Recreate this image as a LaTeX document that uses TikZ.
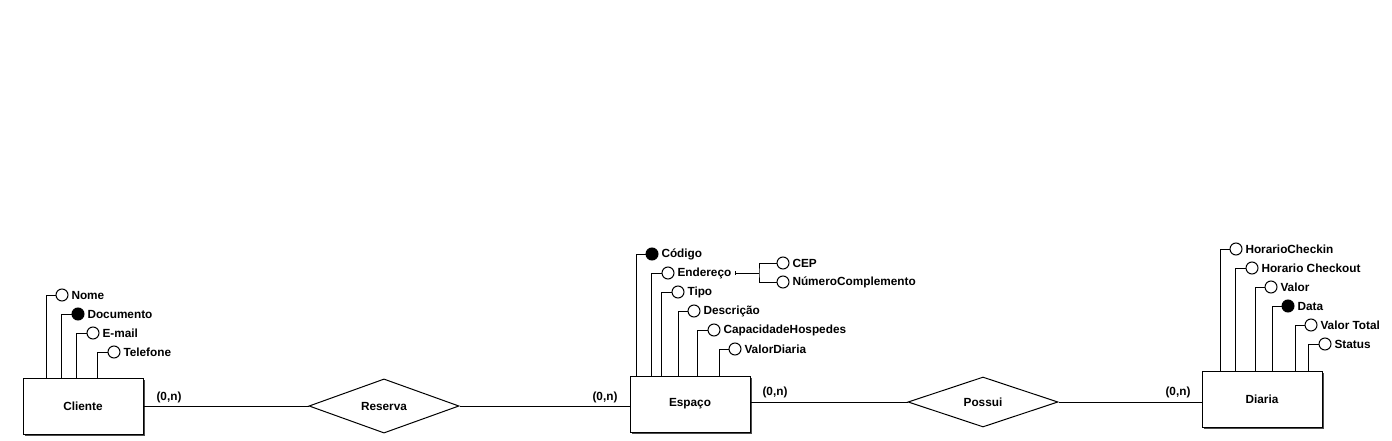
\documentclass[tikz,border=0pt]{standalone}
\usepackage{fontspec}
\setmainfont{Liberation Sans}
\usetikzlibrary{shapes.geometric,shadows}
\newcommand{\erfont}{\fontsize{11.8}{14}\selectfont\bfseries}
\tikzset{
  entity/.style={draw, fill=white, minimum width=120pt, minimum height=56pt, font=\erfont,
    drop shadow={shadow xshift=2pt, shadow yshift=-2pt, fill=black!70, opacity=1}},
  relation/.style={draw, diamond, fill=white, minimum width=150pt, minimum height=50pt, inner sep=0pt, font=\erfont},
  attr/.style={draw, circle, fill=white, minimum size=12pt, inner sep=0pt},
  keyattr/.style={attr, fill=black},
  card/.style={font=\erfont, inner sep=0pt},
}
\begin{document}
\begin{tikzpicture}[x=1pt, y=-1pt, line width=1pt, every label/.style={font=\erfont, inner sep=2.5pt}]
\useasboundingbox (0,0) rectangle (1392,441);
% entidades
\node[entity] (cliente) at (83,406) {Cliente};
\node[entity] (espaco) at (690,404) {Espaço};
\node[entity] (diaria) at (1262,399) {Diaria};
% relacionamentos
\node[relation] (reserva) at (384,406) {Reserva};
\node[relation] (possui) at (983,402) {Possui};
\draw (cliente.east) -- (reserva.west);
\draw (reserva.east) -- (reserva.east -| espaco.west);
\draw (espaco.east |- possui.west) -- (possui.west);
\draw (possui.east) -- (possui.east -| diaria.west);
\node[card] (c1) at (169,397) {(0,n)};
\node[card] (c2) at (605,397) {(0,n)};
\node[card] (c3) at (775,392) {(0,n)};
\node[card] (c4) at (1178,392) {(0,n)};
% atributos Cliente
\node[attr, label=right:Nome] (nome) at (62,295) {};
\node[keyattr, label=right:Documento] (documento) at (78,314) {};
\node[attr, label=right:E-mail] (email) at (93,333) {};
\node[attr, label=right:Telefone] (telefone) at (114,352) {};
\draw (nome.west) -| ([xshift=24pt]cliente.north west);
\draw (documento.west) -| ([xshift=39pt]cliente.north west);
\draw (email.west) -| ([xshift=54pt]cliente.north west);
\draw (telefone.west) -| ([xshift=75pt]cliente.north west);
% atributos Espaço
\node[keyattr, label=right:Código] (codigo) at (652,254) {};
\node[attr, label={[name=endlbl]right:Endereço}] (endereco) at (668,273) {};
\node[attr, label=right:Tipo] (tipo) at (678,292) {};
\node[attr, label=right:Descrição] (descricao) at (694,311) {};
\node[attr, label=right:CapacidadeHospedes] (capacidade) at (714,330) {};
\node[attr, label=right:ValorDiaria] (valordiaria) at (735,349) {};
\draw (codigo.west) -| ([xshift=7pt]espaco.north west);
\draw (endereco.west) -| ([xshift=22pt]espaco.north west);
\draw (tipo.west) -| ([xshift=32pt]espaco.north west);
\draw (descricao.west) -| ([xshift=49pt]espaco.north west);
\draw (capacidade.west) -| ([xshift=68pt]espaco.north west);
\draw (valordiaria.west) -| ([xshift=90pt]espaco.north west);
% Endereço composto
\node[attr, label=right:CEP] (cep) at (783,263) {};
\node[attr, label=right:NúmeroComplemento] (numcomp) at (783,282) {};
\coordinate (endtick) at (735,273);
\coordinate (endj) at (759,273);
\draw (endtick) -- (endj);
\draw ([yshift=-2pt]endtick) -- ([yshift=2pt]endtick);
\draw (cep.west) -| (endj) |- (numcomp.west);
% atributos Diaria
\node[attr, label=right:HorarioCheckin] (checkin) at (1236,249) {};
\node[attr, label=right:Horario Checkout] (checkout) at (1252,268) {};
\node[attr, label=right:Valor] (valor) at (1271,287) {};
\node[keyattr, label=right:Data] (data) at (1288,306) {};
\node[attr, label=right:Valor Total] (valortotal) at (1311,325) {};
\node[attr, label=right:Status] (status) at (1325,344) {};
\draw (checkin.west) -| ([xshift=19pt]diaria.north west);
\draw (checkout.west) -| ([xshift=34pt]diaria.north west);
\draw (valor.west) -| ([xshift=54pt]diaria.north west);
\draw (data.west) -| ([xshift=71pt]diaria.north west);
\draw (valortotal.west) -| ([xshift=94pt]diaria.north west);
\draw (status.west) -| ([xshift=107pt]diaria.north west);
\end{tikzpicture}
\end{document}
